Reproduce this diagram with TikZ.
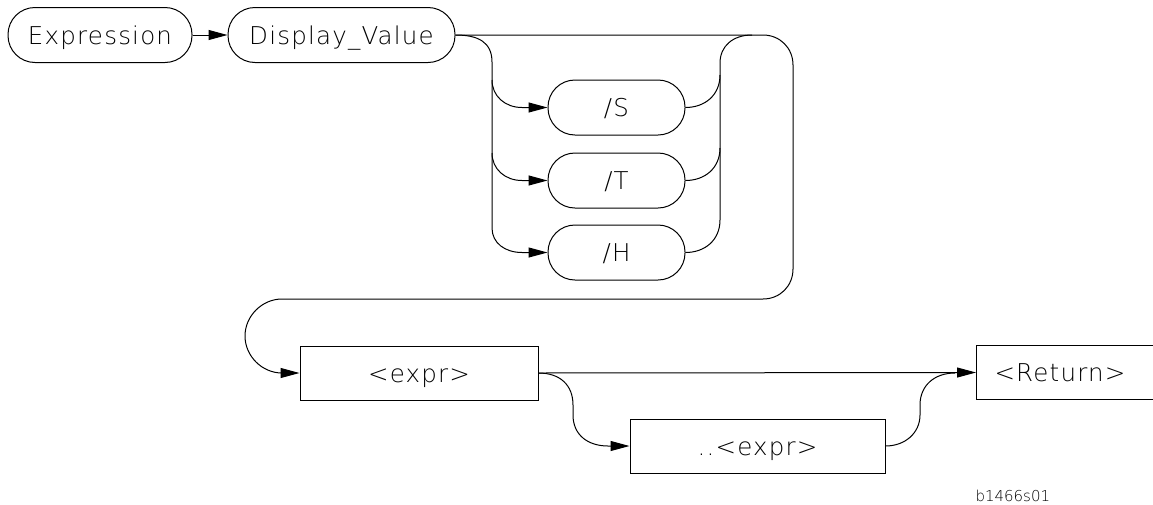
\documentclass[tikz,border=0pt]{standalone}
\usepackage{fontspec}
\IfFontExistsTF{DejaVuSans-ExtraLight.ttf}{%
  \setmainfont{DejaVuSans-ExtraLight.ttf}[LetterSpace=5]%
  \newfontfamily\lblfont{DejaVuSans-ExtraLight.ttf}}{%
  \setmainfont{DejaVu Sans}[LetterSpace=5]%
  \newfontfamily\lblfont{DejaVu Sans}}
\usetikzlibrary{arrows.meta}
\begin{document}
\begin{tikzpicture}[x=1pt,y=-1pt,line width=1pt,
  arr/.style={-{Triangle[length=19pt,width=10pt]}},
  txt/.style={font=\fontsize{24.5}{28}\selectfont, text height=18pt, text depth=0pt},
  pill/.style={draw, txt, rounded corners=27pt, minimum height=55pt, inner sep=0pt},
  boxnode/.style={draw, txt, rectangle, minimum height=54pt, inner sep=0pt},
  lbl/.style={font=\lblfont\fontsize{15}{18}\selectfont}]
\clip (0,0) rectangle (1153,504);
% nodes
\node[pill, minimum width=184pt] (expn) at (100,35) {Expression};
\node[pill, minimum width=227pt] (dv) at (341.5,35) {Display\_Value};
\node[pill, minimum width=137pt] (S) at (616.5,107.5) {/S};
\node[pill, minimum width=137pt] (T) at (616.5,180.5) {/T};
\node[pill, minimum width=137pt] (H) at (616.5,252.5) {/H};
\node[boxnode, minimum width=238pt] (expr) at (419,373) {<expr>};
\node[boxnode, minimum width=255pt] (dexpr) at (757.5,446) {..<expr>};
\node[boxnode, anchor=west, inner xsep=18pt, text width=164pt, align=left] (ret) at (976,372.5) {<Return>};
\node[lbl, anchor=west, inner sep=0pt] (code) at (975,496) {b1466s01};
% coordinates
\coordinate (mergeTop) at (752,35);
\coordinate (mergeBot) at (955,373);
% connectors
\draw[arr] (expn) -- (dv);
% bypass of options, down and back to <expr>
\draw[arr] (dv.east) -- (763,35) .. controls (780,35) and (793,48) .. (793,65)
  -- (793,269) .. controls (793,286) and (780,299) .. (763,299)
  -- (282,299) .. controls (262,299) and (245,316) .. (245,336)
  .. controls (245,356) and (262,373) .. (282,373) -- (expr.west);
% options entry
\draw[arr] (dv.east) .. controls (478,35) and (492,42) .. (492,62)
  -- (492,228) .. controls (492,243) and (505,252.5) .. (522,252.5) -- (H.west);
\draw[arr] (492,80) .. controls (492,96) and (505,107.5) .. (522,107.5) -- (S.west);
\draw[arr] (492,153) .. controls (492,169) and (505,180.5) .. (522,180.5) -- (T.west);
% options exit
\draw (H.east) .. controls (705,252.5) and (720,240) .. (720,220)
  -- (720,63) .. controls (720,46) and (733,35) .. (mergeTop);
\draw (S.east) .. controls (705,107.5) and (720,95) .. (720,75);
\draw (T.east) .. controls (705,180.5) and (720,168) .. (720,148);
% expr to return
\draw[arr] (expr.east) -- (ret.west);
\draw[arr] (expr.east) .. controls (560,373) and (573,385) .. (573,405)
  -- (573,415) .. controls (573,435) and (588,446) .. (608,446) -- (dexpr.west);
\draw (dexpr.east) .. controls (905,446) and (920,433) .. (920,415)
  -- (920,405) .. controls (920,385) and (935,373) .. (mergeBot);
\end{tikzpicture}
\end{document}
